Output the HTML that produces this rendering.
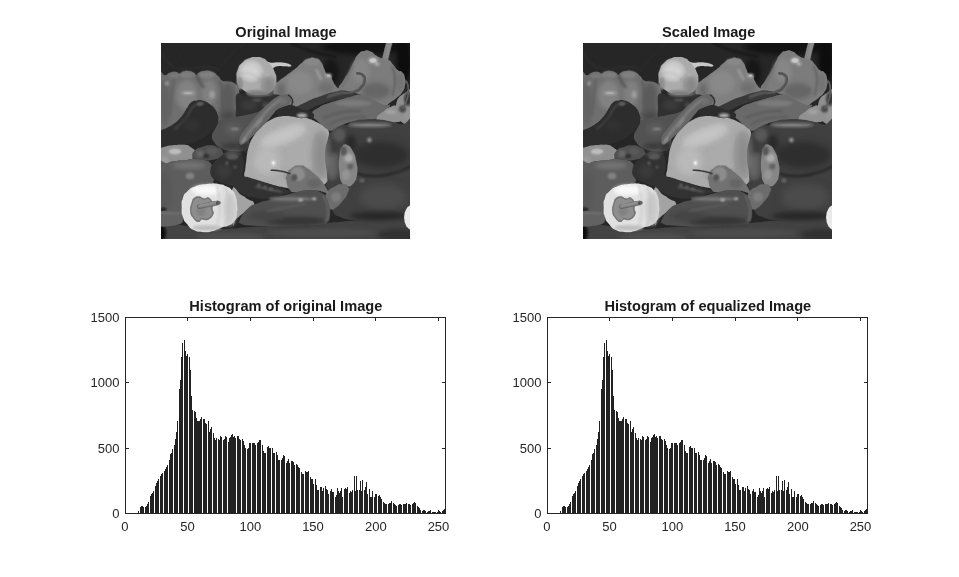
<!DOCTYPE html>
<html><head><meta charset="utf-8"><title>Figure</title>
<style>
html,body{margin:0;padding:0;background:#fff;}
body{width:959px;height:577px;overflow:hidden;}
svg{display:block;}
text{font-family:"Liberation Sans",Arial,Helvetica,sans-serif;fill:#262626;}
.tk{font-size:13px;}
.tt{font-size:14.6px;font-weight:bold;fill:#1a1a1a;}
</style></head><body>
<svg width="959" height="577" viewBox="0 0 959 577">
<defs>
<filter id="bl" x="-5%" y="-5%" width="110%" height="110%" color-interpolation-filters="sRGB"><feGaussianBlur stdDeviation="0.7"/><feComponentTransfer><feFuncR type="table" tableValues="0.000 0.000 0.000 0.038 0.097 0.131 0.173 0.207 0.244 0.296 0.331 0.345 0.359 0.379 0.407 0.440 0.470 0.503 0.531 0.550 0.567 0.584 0.601 0.666 0.741 0.771 0.795 0.823 0.877 0.946 0.990 1.000 1.000"/><feFuncG type="table" tableValues="0.000 0.000 0.000 0.038 0.097 0.131 0.173 0.207 0.244 0.296 0.331 0.345 0.359 0.379 0.407 0.440 0.470 0.503 0.531 0.550 0.567 0.584 0.601 0.666 0.741 0.771 0.795 0.823 0.877 0.946 0.990 1.000 1.000"/><feFuncB type="table" tableValues="0.000 0.000 0.000 0.038 0.097 0.131 0.173 0.207 0.244 0.296 0.331 0.345 0.359 0.379 0.407 0.440 0.470 0.503 0.531 0.550 0.567 0.584 0.601 0.666 0.741 0.771 0.795 0.823 0.877 0.946 0.990 1.000 1.000"/></feComponentTransfer></filter>
<filter id="b2" filterUnits="userSpaceOnUse" x="-30" y="-30" width="310" height="260"><feGaussianBlur color-interpolation-filters="sRGB" stdDeviation="2"/></filter>
<filter id="b3" filterUnits="userSpaceOnUse" x="-30" y="-30" width="310" height="260"><feGaussianBlur color-interpolation-filters="sRGB" stdDeviation="3.5"/></filter>
<filter id="b1" filterUnits="userSpaceOnUse" x="-30" y="-30" width="310" height="260"><feGaussianBlur color-interpolation-filters="sRGB" stdDeviation="1.1"/></filter>
<clipPath id="cp"><rect x="0" y="0" width="249" height="196"/></clipPath>
<symbol id="pep" viewBox="0 0 249 196" overflow="hidden">
<g clip-path="url(#cp)"><g filter="url(#bl)">
<rect x="-5" y="-5" width="259" height="206" fill="#2c2c2c"/>
<path d="M0.0,8.0C2.7,12.0 0.7,14.0 8.0,20.0C15.3,26.0 9.7,24.7 22.0,26.0C34.3,27.3 33.0,23.7 45.0,24.0C57.0,24.3 53.7,26.0 58.0,27.0" fill="none" stroke="#343434" stroke-width="1.3" stroke-linecap="round" filter="url(#b1)"/>
<path d="M58.0,27.0C62.0,22.0 61.3,21.0 70.0,12.0C78.7,3.0 79.3,4.0 84.0,0.0" fill="none" stroke="#303030" stroke-width="1.1" stroke-linecap="round" filter="url(#b1)"/>
<path d="M16.0,6.0 L22.0,20.0" fill="none" stroke="#303030" stroke-width="1.1" stroke-linecap="round" filter="url(#b1)"/>
<path d="M130.0,0.0C136.7,2.7 135.0,3.3 150.0,8.0C165.0,12.7 166.7,12.0 175.0,14.0" fill="none" stroke="#1e1e1e" stroke-width="2.0" stroke-linecap="round" filter="url(#b1)"/>
<ellipse cx="205.0" cy="4.0" rx="45.0" ry="8.0" fill="#1d1d1d" filter="url(#b2)"/>
<ellipse cx="243.0" cy="18.0" rx="8.0" ry="22.0" fill="#1a1a1a" filter="url(#b2)"/>
<ellipse cx="170.0" cy="30.0" rx="8.0" ry="14.0" fill="#1f1f1f" filter="url(#b2)"/>
<path d="M-5.0,181.0C6.0,177.2 29.0,185.5 50.0,186.0C71.0,186.5 77.0,184.6 100.0,183.4C123.0,182.2 146.0,181.2 165.0,180.0C184.0,178.8 176.8,178.8 195.0,177.6C213.2,176.4 243.8,168.5 256.0,174.0C268.2,179.5 308.2,198.8 256.0,205.0C203.8,211.2 47.2,209.8 -5.0,205.0C-57.2,200.2 -16.0,184.8 -5.0,181.0Z" fill="#434343" />
<ellipse cx="160.0" cy="190.0" rx="55.0" ry="4.0" fill="#4a4a4a" filter="url(#b2)"/>
<ellipse cx="70.0" cy="194.0" rx="35.0" ry="4.0" fill="#4b4b4b" filter="url(#b2)"/>
<ellipse cx="240.0" cy="192.0" rx="22.0" ry="6.0" fill="#353535" filter="url(#b2)"/>
<ellipse cx="0.0" cy="190.0" rx="5.0" ry="9.0" fill="#1a1a1a" filter="url(#b1)"/>
<path d="M236.0,58.0C237.6,53.6 240.0,52.4 244.0,50.0C248.0,47.6 253.6,39.2 256.0,46.0C258.4,52.8 258.6,77.1 256.0,84.0C253.4,90.9 247.0,82.9 243.0,80.5C239.0,78.1 237.4,76.5 236.0,72.0C234.6,67.5 234.4,62.4 236.0,58.0Z" fill="#9c9c9c" />
<ellipse cx="247.0" cy="56.0" rx="4.0" ry="7.0" fill="#3a3a3a" filter="url(#b1)"/>
<ellipse cx="246.0" cy="71.0" rx="5.0" ry="6.0" fill="#a8a8a8" filter="url(#b1)"/>
<path d="M224.0,17.0C224.8,13.7 224.7,13.3 226.3,7.0C227.9,0.7 228.0,1.0 228.8,-2.0" fill="none" stroke="#8a8a8a" stroke-width="6.0" stroke-linecap="round" />
<path d="M225.5,15.0C226.2,12.0 226.2,11.7 227.6,6.0C229.0,0.3 229.1,0.7 229.8,-2.0" fill="none" stroke="#9c9c9c" stroke-width="2.0" stroke-linecap="round" filter="url(#b1)"/>
<path d="M178.0,46.2C177.2,42.1 179.1,43.2 182.5,37.2C185.9,31.2 184.8,34.2 188.2,28.2C191.6,22.2 189.7,24.7 192.7,19.1C195.7,13.5 193.8,15.0 197.2,11.3C200.6,7.6 198.7,8.9 202.8,7.9C206.9,6.9 205.4,6.9 209.5,8.4C213.6,9.9 211.4,10.1 215.2,12.4C219.0,14.7 216.7,13.7 220.8,15.2C224.9,16.7 223.9,14.8 227.6,16.9C231.3,19.0 229.0,18.0 232.0,21.4C235.0,24.8 233.6,24.4 236.6,27.0C239.6,29.6 238.6,26.7 241.0,29.3C243.4,31.9 242.9,30.4 243.9,34.9C244.9,39.4 244.9,37.9 243.9,42.8C242.9,47.7 243.4,45.8 241.0,49.5C238.6,53.2 240.3,50.8 236.6,54.0C232.9,57.2 234.3,56.2 229.8,59.0C225.3,61.8 228.3,62.2 223.0,62.5C217.7,62.8 220.0,62.8 214.0,60.0C208.0,57.2 211.7,57.3 205.0,54.0C198.3,50.7 200.5,51.5 193.8,50.0C187.1,48.5 190.1,50.8 184.8,49.5C179.5,48.2 178.8,50.3 178.0,46.2Z" fill="#848484" />
<ellipse cx="200.0" cy="28.0" rx="9.0" ry="12.0" fill="#8e8e8e" filter="url(#b2)"/>
<ellipse cx="215.0" cy="48.0" rx="14.0" ry="8.0" fill="#6e6e6e" filter="url(#b2)"/>
<ellipse cx="239.0" cy="40.0" rx="3.5" ry="9.0" fill="#7c7c7c" filter="url(#b1)"/>
<path d="M231.0,24.0C232.0,28.0 233.7,26.7 234.0,36.0C234.3,45.3 232.7,46.7 232.0,52.0" fill="none" stroke="#5e5e5e" stroke-width="1.4" stroke-linecap="round" filter="url(#b1)"/>
<ellipse cx="212.0" cy="17.5" rx="4.5" ry="3.0" fill="#d0d0d0" filter="url(#b1)"/>
<ellipse cx="216.0" cy="21.0" rx="2.5" ry="2.0" fill="#c4c4c4" filter="url(#b1)"/>
<path d="M181.0,45.0C182.7,41.3 182.3,41.3 186.0,34.0C189.7,26.7 190.0,26.7 192.0,23.0" fill="none" stroke="#727272" stroke-width="1.5" stroke-linecap="round" filter="url(#b1)"/>
<path d="M113.0,44.0C113.7,37.3 114.0,41.8 118.0,38.0C122.0,34.2 119.7,36.7 125.0,32.7C130.3,28.7 128.7,30.3 134.0,26.0C139.3,21.7 136.5,23.1 141.0,19.7C145.5,16.3 143.2,17.3 147.6,15.8C152.0,14.3 150.2,14.1 154.3,15.2C158.4,16.3 157.0,15.4 160.0,19.0C163.0,22.6 161.4,22.2 163.3,26.0C165.2,29.8 163.4,28.2 165.6,30.4C167.8,32.6 168.0,30.4 170.0,32.7C172.0,35.0 170.0,33.8 171.5,37.2C173.0,40.6 172.4,39.2 174.6,42.8C176.8,46.4 180.9,44.9 178.0,48.0C175.1,51.1 175.0,49.0 166.0,52.0C157.0,55.0 161.0,53.1 151.0,57.0C141.0,60.9 144.0,59.9 136.0,63.6C128.0,67.3 133.7,69.9 127.0,68.0C120.3,66.1 120.7,66.0 116.0,58.0C111.3,50.0 112.3,50.7 113.0,44.0Z" fill="#888888" />
<ellipse cx="139.0" cy="40.0" rx="12.0" ry="11.0" fill="#939393" filter="url(#b2)"/>
<ellipse cx="120.0" cy="48.0" rx="4.0" ry="8.0" fill="#727272" filter="url(#b2)"/>
<ellipse cx="165.0" cy="45.0" rx="8.0" ry="6.0" fill="#787878" filter="url(#b2)"/>
<ellipse cx="151.0" cy="19.0" rx="8.0" ry="3.2" fill="#929292" filter="url(#b1)"/>
<path d="M155.5,27.0C156.5,29.0 157.0,30.0 158.5,33.0C160.0,36.0 159.5,35.0 160.0,36.0" fill="none" stroke="#c8c8c8" stroke-width="1.5" stroke-linecap="round" filter="url(#b1)"/>
<ellipse cx="167.5" cy="32.5" rx="3.0" ry="1.8" fill="#d0d0d0" filter="url(#b1)"/>
<path d="M-6.0,32.6C-3.9,14.8 0.3,33.0 4.0,32.3C7.7,31.6 5.3,30.9 8.0,30.0C10.7,29.1 11.1,28.7 14.0,28.8C16.9,28.9 16.9,30.6 19.0,30.5C21.1,30.4 19.6,29.2 22.0,28.5C24.4,27.8 25.1,27.6 28.0,28.0C30.9,28.4 31.0,28.9 33.0,30.0C35.0,31.1 34.2,32.1 35.5,32.0C36.8,31.9 35.7,30.6 38.0,29.5C40.3,28.4 40.5,28.2 44.0,28.0C47.5,27.8 47.5,27.5 51.0,28.8C54.5,30.1 54.3,30.7 57.0,33.0C59.7,35.3 58.3,36.0 61.0,37.5C63.7,39.0 63.8,37.8 67.0,38.5C70.2,39.2 70.3,38.3 73.0,40.0C75.7,41.7 75.5,41.5 77.0,45.0C78.5,48.5 78.2,48.5 78.5,53.0C78.8,57.5 78.9,56.9 78.0,62.0C77.1,67.1 76.7,67.9 75.0,72.0C73.3,76.1 76.0,75.4 71.5,77.5C67.0,79.6 68.0,77.2 58.0,80.0C48.0,82.8 50.5,82.9 34.0,88.0C17.5,93.1 6.7,113.8 -4.0,99.0C-14.7,84.2 -8.1,50.4 -6.0,32.6Z" fill="#777777" />
<ellipse cx="67.0" cy="58.0" rx="7.0" ry="18.0" fill="#606060" filter="url(#b2)"/>
<ellipse cx="4.0" cy="60.0" rx="5.0" ry="24.0" fill="#6a6a6a" filter="url(#b2)"/>
<ellipse cx="26.0" cy="52.0" rx="11.0" ry="15.0" fill="#8a8a8a" filter="url(#b2)"/>
<ellipse cx="48.0" cy="50.0" rx="8.0" ry="13.0" fill="#888888" filter="url(#b2)"/>
<ellipse cx="26.0" cy="32.0" rx="8.0" ry="3.0" fill="#868686" filter="url(#b1)"/>
<ellipse cx="46.0" cy="32.0" rx="8.0" ry="3.5" fill="#888888" filter="url(#b1)"/>
<ellipse cx="13.0" cy="33.0" rx="5.0" ry="2.5" fill="#828282" filter="url(#b1)"/>
<ellipse cx="27.0" cy="50.0" rx="6.5" ry="1.8" fill="#c4c4c4" filter="url(#b1)"/>
<ellipse cx="51.0" cy="51.5" rx="2.6" ry="3.8" fill="#b4b4b4" filter="url(#b1)"/>
<ellipse cx="6.0" cy="40.5" rx="1.8" ry="2.2" fill="#a4a4a4" filter="url(#b1)"/>
<path d="M36.0,33.0C37.3,35.7 37.7,37.2 40.0,41.0C42.3,44.8 42.0,43.3 43.0,44.5" fill="none" stroke="#4a4a4a" stroke-width="1.3" stroke-linecap="round" filter="url(#b1)"/>
<path d="M13.0,36.0C12.3,40.7 12.3,38.0 11.0,50.0C9.7,62.0 9.7,64.7 9.0,72.0" fill="none" stroke="#646464" stroke-width="1.4" stroke-linecap="round" filter="url(#b1)"/>
<path d="M59.0,38.0C60.0,43.7 61.7,42.3 62.0,55.0C62.3,67.7 60.7,69.0 60.0,76.0" fill="none" stroke="#5a5a5a" stroke-width="1.4" stroke-linecap="round" filter="url(#b1)"/>
<ellipse cx="67.0" cy="73.0" rx="9.0" ry="6.0" fill="#484848" filter="url(#b2)"/>
<path d="M76.0,51.0C78.2,48.8 82.0,52.8 86.0,53.0C90.0,53.2 91.2,52.4 96.0,52.0C100.8,51.6 105.2,50.6 110.0,51.0C114.8,51.4 119.6,51.0 120.0,54.0C120.4,57.0 116.8,62.6 112.0,66.0C107.2,69.4 103.0,69.2 96.0,71.0C89.0,72.8 81.2,76.4 77.0,75.0C72.8,73.6 75.2,68.8 75.0,64.0C74.8,59.2 73.8,53.2 76.0,51.0Z" fill="#343434" />
<ellipse cx="88.0" cy="62.0" rx="8.0" ry="5.0" fill="#3e3e3e" filter="url(#b2)"/>
<ellipse cx="96.0" cy="57.0" rx="5.0" ry="2.0" fill="#4a4a4a" filter="url(#b1)"/>
<ellipse cx="105.0" cy="62.0" rx="4.0" ry="3.0" fill="#454545" filter="url(#b1)"/>
<path d="M106.0,19.5C106.3,17.6 108.4,19.8 111.0,19.8C113.6,19.8 114.2,19.3 117.0,19.3C119.8,19.3 120.1,19.3 123.0,19.8C125.9,20.3 127.8,20.6 129.3,21.5C130.8,22.4 130.7,23.2 129.5,23.6C128.3,24.0 126.7,23.3 124.0,23.2C121.3,23.1 120.6,22.7 118.0,23.0C115.4,23.3 115.0,23.3 113.0,24.5C111.0,25.7 111.1,29.2 109.5,28.0C107.9,26.8 105.7,21.4 106.0,19.5Z" fill="#cccccc" />
<path d="M75.6,35.0C75.3,29.7 75.0,31.2 77.0,26.0C79.0,20.8 77.8,23.1 81.5,19.5C85.2,15.9 83.5,17.1 88.0,15.3C92.5,13.5 90.5,14.1 95.0,14.0C99.5,13.9 97.7,13.5 101.5,15.0C105.3,16.5 103.5,15.8 106.5,18.5C109.5,21.2 108.1,19.5 110.5,23.0C112.9,26.5 112.1,24.7 113.7,29.0C115.3,33.3 115.3,31.2 115.3,36.0C115.3,40.8 116.1,39.0 113.8,43.5C111.5,48.0 113.1,46.8 108.5,49.5C103.9,52.2 105.8,51.1 100.0,51.6C94.2,52.1 96.7,52.4 91.0,51.0C85.3,49.6 87.3,50.5 83.0,47.5C78.7,44.5 80.5,46.2 78.0,42.0C75.5,37.8 75.9,40.3 75.6,35.0Z" fill="#b8b8b8" />
<ellipse cx="90.0" cy="28.0" rx="10.0" ry="9.0" fill="#d8d8d8" filter="url(#b2)"/>
<ellipse cx="108.0" cy="43.0" rx="6.0" ry="8.0" fill="#909090" filter="url(#b2)"/>
<ellipse cx="97.0" cy="50.3" rx="12.0" ry="2.6" fill="#858585" filter="url(#b1)"/>
<ellipse cx="78.5" cy="41.0" rx="2.5" ry="6.0" fill="#9c9c9c" filter="url(#b1)"/>
<path d="M84.0,22.0C88.0,22.7 88.0,20.0 96.0,24.0C104.0,28.0 104.0,30.7 108.0,34.0" fill="none" stroke="#c8c8c8" stroke-width="0.7" stroke-linecap="round" filter="url(#b1)"/>
<path d="M80.0,30.0C84.7,31.0 85.3,28.3 94.0,33.0C102.7,37.7 102.0,40.3 106.0,44.0" fill="none" stroke="#aaaaaa" stroke-width="0.7" stroke-linecap="round" filter="url(#b1)"/>
<path d="M151.0,71.0C151.3,67.3 153.5,67.4 158.0,64.5C162.5,61.6 162.1,62.1 168.0,60.0C173.9,57.9 173.6,58.4 180.0,56.5C186.4,54.6 185.9,53.9 192.0,52.8C198.1,51.7 197.1,50.9 203.0,52.2C208.9,53.5 208.7,54.9 214.0,57.5C219.3,60.1 219.0,60.5 223.0,61.8C227.0,63.1 229.3,60.7 229.0,62.5C228.7,64.3 225.3,65.2 222.0,68.5C218.7,71.8 220.9,72.6 216.5,75.0C212.1,77.4 212.0,76.7 205.5,77.6C199.0,78.5 198.3,77.4 192.0,78.5C185.7,79.6 187.2,79.4 181.7,81.8C176.2,84.2 176.0,86.6 171.5,87.5C167.0,88.4 168.7,87.4 164.8,85.0C160.9,82.6 160.7,82.2 157.0,78.5C153.3,74.8 150.7,74.7 151.0,71.0Z" fill="#727272" />
<ellipse cx="192.0" cy="60.3" rx="18.0" ry="3.2" fill="#838383" filter="url(#b1)"/>
<path d="M163.0,74.7C168.7,73.0 168.1,71.8 180.0,69.6C191.9,67.4 192.5,68.5 198.7,68.0" fill="none" stroke="#606060" stroke-width="1.8" stroke-linecap="round" filter="url(#b1)"/>
<path d="M168.0,81.5C173.2,79.5 171.5,78.1 183.5,75.6C195.5,73.1 197.2,74.5 204.0,74.0" fill="none" stroke="#636363" stroke-width="1.8" stroke-linecap="round" filter="url(#b1)"/>
<path d="M128.0,69.0C132.3,65.3 135.5,63.8 144.4,59.4C153.3,55.0 153.2,55.5 161.4,52.6C169.6,49.7 169.1,50.0 175.0,48.6C180.9,47.2 178.7,47.0 183.4,47.5C188.1,48.0 190.5,48.8 192.8,50.3C195.1,51.8 195.0,51.6 192.0,53.0C189.0,54.4 188.5,53.9 181.7,55.5C174.9,57.1 175.1,56.3 166.5,59.0C157.9,61.7 157.2,62.3 149.5,65.7C141.8,69.1 143.3,69.6 137.6,71.7C131.9,73.8 130.8,74.1 128.2,73.4C125.6,72.7 123.7,72.7 128.0,69.0Z" fill="#3c3c3c" />
<path d="M166.5,54.0C169.9,52.9 171.0,52.1 176.6,50.6C182.2,49.1 181.1,49.9 183.4,49.6" fill="none" stroke="#8c8c8c" stroke-width="1.0" stroke-linecap="round" filter="url(#b1)"/>
<path d="M184.0,50.0C187.3,49.5 188.3,50.6 193.8,48.6C199.3,46.6 197.2,47.7 200.5,43.9C203.8,40.1 203.2,41.2 203.6,37.2C204.0,33.2 204.1,34.3 201.7,32.0C199.3,29.7 198.1,30.9 196.3,30.4" fill="none" stroke="#505050" stroke-width="2.5" stroke-linecap="round" />
<path d="M190.0,49.0C193.0,47.2 194.9,47.4 199.0,43.5C203.1,39.6 201.7,41.0 202.3,37.4C202.9,33.8 201.2,34.2 200.7,32.6" fill="none" stroke="#6e6e6e" stroke-width="0.8" stroke-linecap="round" />
<path d="M215.7,75.0C216.9,71.9 218.0,72.0 222.5,68.3C227.0,64.6 224.8,65.8 229.3,64.0C233.8,62.2 231.5,62.1 236.0,62.8C240.5,63.5 240.2,63.2 242.9,66.2C245.6,69.2 244.6,68.2 244.0,71.7C243.4,75.2 244.4,74.3 241.2,76.8C238.0,79.3 239.5,78.7 234.4,79.3C229.3,79.9 231.0,79.1 225.9,78.5C220.8,77.9 222.4,78.8 219.0,77.6C215.6,76.4 214.5,78.1 215.7,75.0Z" fill="#a0a0a0" />
<ellipse cx="230.0" cy="69.0" rx="6.0" ry="3.0" fill="#b4b4b4" filter="url(#b1)"/>
<ellipse cx="241.5" cy="66.0" rx="3.5" ry="3.5" fill="#444444" filter="url(#b1)"/>
<path d="M241.5,65.4C243.0,62.6 244.0,63.3 245.9,56.9C247.8,50.5 247.4,52.4 247.3,46.2C247.2,40.0 246.2,40.9 245.6,38.2" fill="none" stroke="#606060" stroke-width="1.5" stroke-linecap="round" />
<path d="M163.9,98.0C165.0,92.9 165.6,94.9 166.8,93.0C168.0,91.1 167.2,91.8 169.0,90.0C170.8,88.2 171.4,87.2 174.6,85.3C177.8,83.4 179.8,82.8 182.5,82.0C185.2,81.2 183.9,82.8 186.0,82.0C188.1,81.2 187.6,79.8 191.5,78.5C195.4,77.2 197.0,76.8 202.8,76.3C208.6,75.8 210.0,75.8 216.3,76.3C222.6,76.8 224.0,77.3 229.8,78.5C235.6,79.7 234.9,80.2 241.0,81.5C247.1,82.8 252.5,62.5 256.0,84.0C259.5,105.5 258.9,152.5 256.0,173.5C253.1,194.5 249.9,173.6 243.5,174.0C237.1,174.4 236.1,174.5 228.6,175.2C221.1,175.9 219.5,176.4 211.5,176.9C203.5,177.4 201.5,178.0 194.3,177.5C187.1,177.0 185.9,176.9 180.6,174.6C175.3,172.3 174.3,173.5 171.4,167.8C168.5,162.1 169.5,156.0 168.0,150.0C166.5,144.0 166.3,146.4 164.8,142.2C163.3,138.0 162.0,138.3 161.4,132.0C160.8,125.7 161.6,122.9 162.2,115.0C162.8,107.1 162.8,103.1 163.9,98.0Z" fill="#414141" />
<ellipse cx="220.0" cy="112.0" rx="28.0" ry="13.0" fill="#323232" filter="url(#b3)"/>
<ellipse cx="222.0" cy="154.0" rx="24.0" ry="13.0" fill="#484848" filter="url(#b3)"/>
<ellipse cx="219.0" cy="173.0" rx="30.0" ry="4.0" fill="#2c2c2c" filter="url(#b2)"/>
<ellipse cx="209.0" cy="82.0" rx="21.0" ry="2.0" fill="#8a8a8a" filter="url(#b1)"/>
<ellipse cx="178.0" cy="92.0" rx="6.0" ry="6.0" fill="#5a5a5a" filter="url(#b2)"/>
<ellipse cx="171.0" cy="122.0" rx="6.0" ry="14.0" fill="#6c6c6c" filter="url(#b2)"/>
<ellipse cx="171.0" cy="105.0" rx="5.0" ry="7.0" fill="#3e3e3e" filter="url(#b2)"/>
<ellipse cx="190.0" cy="100.0" rx="5.0" ry="8.0" fill="#2e2e2e" filter="url(#b2)"/>
<path d="M195.0,130.0C200.7,131.0 199.3,133.0 212.0,133.0C224.7,133.0 220.3,133.3 233.0,130.0C245.7,126.7 244.3,125.3 250.0,123.0" fill="none" stroke="#2a2a2a" stroke-width="2.2" stroke-linecap="round" filter="url(#b1)"/>
<ellipse cx="208.4" cy="97.0" rx="2.0" ry="2.0" fill="#b4b4b4" filter="url(#b1)"/>
<ellipse cx="201.0" cy="137.5" rx="1.6" ry="1.3" fill="#909090" filter="url(#b1)"/>
<path d="M181.0,104.0C183.2,100.6 183.6,101.0 186.5,102.2C189.4,103.4 189.7,104.1 192.0,108.5C194.3,112.9 194.2,112.8 195.3,118.7C196.4,124.6 197.0,124.8 196.2,130.6C195.4,136.4 195.2,137.2 192.3,140.5C189.4,143.8 188.7,143.5 185.5,143.0C182.3,142.5 182.3,142.6 180.4,138.8C178.5,135.0 178.9,134.9 178.3,128.6C177.7,122.3 177.6,121.6 178.3,115.0C179.0,108.4 178.8,107.4 181.0,104.0Z" fill="#8e8e8e" />
<ellipse cx="187.7" cy="115.0" rx="5.0" ry="5.0" fill="#b8b8b8" filter="url(#b1)"/>
<ellipse cx="185.0" cy="132.0" rx="4.0" ry="5.0" fill="#a8a8a8" filter="url(#b1)"/>
<ellipse cx="189.4" cy="123.5" rx="3.0" ry="3.0" fill="#686868" filter="url(#b1)"/>
<ellipse cx="182.6" cy="108.0" rx="3.0" ry="4.5" fill="#5a5a5a" filter="url(#b1)"/>
<path d="M166.5,149.0C169.3,145.1 168.2,146.5 173.3,143.9C178.4,141.3 177.1,141.2 181.7,141.3C186.3,141.4 185.7,141.0 187.2,144.2C188.7,147.4 188.0,146.5 186.2,151.0C184.4,155.5 185.4,153.3 181.7,157.8C178.0,162.3 178.9,161.8 175.0,164.6C171.1,167.4 172.7,166.9 169.9,166.3C167.1,165.7 168.2,166.4 166.5,162.9C164.8,159.4 164.8,160.3 164.8,155.7C164.8,151.1 163.7,152.9 166.5,149.0Z" fill="#747474" />
<ellipse cx="175.0" cy="154.0" rx="5.0" ry="5.0" fill="#858585" filter="url(#b1)"/>
<path d="M57.0,78.0C60.1,75.7 62.6,76.2 68.0,75.0C73.4,73.8 74.4,74.0 80.0,73.0C85.6,72.0 86.4,71.8 92.0,70.5C97.6,69.2 102.8,65.8 104.0,67.5C105.2,69.2 100.7,72.4 97.0,78.0C93.3,83.6 90.3,87.0 88.3,91.7C86.3,96.4 89.1,94.5 88.3,98.0C87.5,101.5 89.0,104.1 85.0,106.5C81.0,108.9 77.3,108.6 71.3,108.2C65.3,107.8 63.7,106.9 59.4,104.8C55.1,102.7 55.0,102.0 53.0,99.0C51.0,96.0 50.6,95.3 51.0,92.0C51.4,88.7 53.1,88.3 54.5,85.0C55.9,81.7 53.9,80.3 57.0,78.0Z" fill="#4e4e4e" />
<ellipse cx="72.0" cy="86.0" rx="8.0" ry="6.0" fill="#626262" filter="url(#b2)"/>
<ellipse cx="74.0" cy="86.0" rx="4.5" ry="1.2" fill="#909090" filter="url(#b1)"/>
<ellipse cx="83.0" cy="103.0" rx="6.0" ry="5.0" fill="#383838" filter="url(#b2)"/>
<ellipse cx="70.0" cy="103.0" rx="10.0" ry="3.5" fill="#3e3e3e" filter="url(#b2)"/>
<path d="M116.0,66.0C116.8,63.6 121.0,63.8 124.0,63.0C127.0,62.2 127.8,61.4 131.0,62.0C134.2,62.6 135.8,64.4 140.0,66.0C144.2,67.6 150.0,68.0 152.0,70.0C154.0,72.0 153.4,75.0 150.0,76.0C146.6,77.0 141.0,75.2 135.0,75.0C129.0,74.8 123.8,76.8 120.0,75.0C116.2,73.2 115.2,68.4 116.0,66.0Z" fill="#303030" />
<path d="M83.5,133.0C82.6,130.8 83.8,130.0 84.3,126.0C84.8,122.0 84.8,120.7 85.5,115.7C86.2,110.7 85.9,109.7 87.5,104.4C89.1,99.2 89.5,98.1 92.5,93.2C95.5,88.3 96.4,87.3 100.5,83.5C104.6,79.7 105.6,79.1 110.0,76.8C114.4,74.5 114.6,74.4 119.4,73.6C124.2,72.8 126.2,73.1 130.7,73.4C135.2,73.7 134.7,74.5 138.6,75.0C142.5,75.5 143.4,74.6 147.6,75.7C151.8,76.8 152.9,77.7 156.6,79.6C160.3,81.5 160.7,81.9 163.3,84.0C165.9,86.1 167.0,85.7 167.8,88.6C168.6,91.5 167.5,92.8 166.7,96.5C165.9,100.2 165.2,100.5 164.5,104.4C163.8,108.3 163.9,109.5 163.9,113.4C163.9,117.3 164.0,117.0 164.5,121.3C165.0,125.6 166.1,127.4 166.0,132.0C165.9,136.6 168.0,137.6 164.0,141.0C160.0,144.4 158.1,145.6 149.0,146.5C139.9,147.4 136.0,146.3 125.0,144.7C114.0,143.1 110.5,141.7 101.9,139.6C93.3,137.5 92.3,137.0 88.0,135.5C83.7,134.0 84.4,135.2 83.5,133.0Z" fill="#b8b8b8" />
<ellipse cx="122.0" cy="93.0" rx="24.0" ry="6.0" fill="#cacaca" filter="url(#b3)" transform="rotate(-22 122 93)"/>
<ellipse cx="106.0" cy="118.0" rx="13.0" ry="14.0" fill="#bebebe" filter="url(#b3)"/>
<ellipse cx="160.0" cy="112.0" rx="6.0" ry="22.0" fill="#969696" filter="url(#b3)"/>
<ellipse cx="140.0" cy="133.0" rx="16.0" ry="6.0" fill="#a8a8a8" filter="url(#b2)"/>
<ellipse cx="112.4" cy="120.0" rx="1.8" ry="2.2" fill="#f6f6f6" filter="url(#b1)"/>
<ellipse cx="141.0" cy="72.5" rx="5.0" ry="2.0" fill="#c8c8c8" filter="url(#b1)"/>
<path d="M71.0,147.5C73.7,138.4 74.7,148.8 80.0,151.7C85.3,154.6 82.8,153.6 87.0,156.3C91.2,159.0 91.6,157.0 92.7,159.7C93.8,162.4 93.8,160.9 90.4,164.3C87.0,167.7 87.4,166.2 82.4,170.0C77.4,173.8 79.0,172.8 75.5,175.8C72.0,178.8 73.5,188.4 72.0,179.0C70.5,169.6 68.3,156.6 71.0,147.5Z" fill="#b4b4b4" />
<path d="M-4.0,105.0C0.7,97.4 1.3,103.4 10.0,102.2C18.7,101.0 15.1,100.5 22.0,101.4C28.9,102.3 26.5,101.9 30.6,104.8C34.7,107.7 33.6,106.6 34.3,110.0C35.0,113.4 35.5,112.7 32.6,115.0C29.7,117.3 31.3,116.0 25.5,117.0C19.7,118.0 21.5,117.0 15.3,118.0C9.1,119.0 13.2,117.7 6.8,120.0C0.4,122.3 -0.4,130.0 -4.0,125.0C-7.6,120.0 -8.7,112.6 -4.0,105.0Z" fill="#a0a0a0" />
<ellipse cx="14.0" cy="108.5" rx="7.0" ry="3.5" fill="#c0c0c0" filter="url(#b1)"/>
<ellipse cx="3.0" cy="117.5" rx="5.0" ry="4.0" fill="#b0b0b0" filter="url(#b1)"/>
<path d="M-4.0,91.0C0.0,85.3 4.6,86.5 11.0,82.0C17.4,77.5 16.0,78.5 20.0,74.0C24.0,69.5 23.3,68.9 26.0,65.0C28.7,61.1 27.4,61.4 30.0,59.4C32.6,57.4 32.4,57.9 35.7,57.4C39.0,56.9 39.1,56.7 42.5,57.7C45.9,58.7 45.6,58.9 48.6,61.0C51.6,63.1 51.6,62.7 53.7,65.5C55.8,68.3 55.6,68.3 56.6,71.5C57.6,74.7 58.0,73.9 57.4,77.4C56.8,80.9 57.2,80.7 54.5,84.5C51.8,88.3 52.0,88.0 47.3,91.5C42.6,95.0 42.7,95.2 37.0,97.7C31.3,100.2 32.9,99.8 26.0,101.0C19.1,102.2 19.0,101.5 11.0,102.2C3.0,102.9 0.0,106.5 -4.0,103.5C-8.0,100.5 -8.0,96.7 -4.0,91.0Z" fill="#313131" />
<path d="M14.0,86.0C17.7,82.3 18.7,82.7 25.0,75.0C31.3,67.3 27.0,68.0 33.0,63.0C39.0,58.0 39.7,61.0 43.0,60.0" fill="none" stroke="#484848" stroke-width="1.8" stroke-linecap="round" filter="url(#b1)"/>
<ellipse cx="39.0" cy="61.0" rx="3.0" ry="1.4" fill="#6c6c6c" filter="url(#b1)"/>
<ellipse cx="30.0" cy="82.0" rx="8.0" ry="6.0" fill="#363636" filter="url(#b2)"/>
<path d="M-4.0,124.5C-1.1,110.9 1.7,121.7 6.8,120.0C11.9,118.3 10.3,118.8 15.3,118.0C20.3,117.2 20.5,117.5 25.5,117.0C30.5,116.5 29.5,116.0 34.0,116.0C38.5,116.0 38.4,115.9 42.5,117.0C46.6,118.1 46.9,117.3 49.3,120.0C51.7,122.7 50.5,122.7 51.5,127.0C52.5,131.3 53.9,132.1 53.0,136.0C52.1,139.9 52.8,139.6 48.0,141.5C43.2,143.4 40.8,141.2 35.0,143.0C29.2,144.8 29.8,145.0 26.3,148.3C22.8,151.6 23.2,150.9 21.7,155.2C20.2,159.5 20.9,160.6 20.6,164.3C20.3,168.0 27.0,167.2 20.4,169.0C13.8,170.8 2.5,182.9 -4.0,171.0C-10.5,159.1 -6.9,138.1 -4.0,124.5Z" fill="#626262" />
<ellipse cx="28.0" cy="122.5" rx="17.0" ry="4.0" fill="#7c7c7c" filter="url(#b2)"/>
<ellipse cx="29.0" cy="133.0" rx="4.5" ry="3.5" fill="#8a8a8a" filter="url(#b1)"/>
<ellipse cx="4.0" cy="148.0" rx="6.0" ry="18.0" fill="#585858" filter="url(#b2)"/>
<ellipse cx="2.0" cy="167.0" rx="4.0" ry="3.0" fill="#2e2e2e" filter="url(#b1)"/>
<path d="M-4.0,169.3C0.9,166.7 15.1,168.0 20.4,169.3C25.7,170.6 23.1,173.6 22.4,176.0C21.7,178.4 22.3,180.2 17.0,181.5C11.7,182.8 0.2,184.7 -4.0,182.3C-8.2,179.9 -8.9,171.9 -4.0,169.3Z" fill="#6a6a6a" />
<path d="M-2.0,170.3 L19.0,170.3" fill="none" stroke="#888888" stroke-width="1.0" stroke-linecap="round" filter="url(#b1)"/>
<path d="M31.4,113.6C31.4,110.7 30.9,110.5 34.0,107.3C37.1,104.1 35.7,105.7 40.8,104.0C45.9,102.3 44.1,102.2 49.3,102.2C54.5,102.2 52.3,102.0 56.4,104.0C60.5,106.0 60.4,105.0 61.5,108.2C62.6,111.4 63.3,110.7 59.8,113.6C56.3,116.5 57.3,115.9 51.0,117.0C44.7,118.1 46.5,117.3 40.8,117.0C35.1,116.7 37.1,117.1 34.0,116.0C30.9,114.9 31.4,116.5 31.4,113.6Z" fill="#4c4c4c" />
<ellipse cx="39.0" cy="110.7" rx="4.0" ry="3.5" fill="#707070" filter="url(#b1)"/>
<ellipse cx="51.0" cy="108.2" rx="5.0" ry="3.0" fill="#5e5e5e" filter="url(#b1)"/>
<ellipse cx="45.0" cy="113.0" rx="3.0" ry="2.0" fill="#333333" filter="url(#b1)"/>
<path d="M129.5,60.0C131.2,58.0 131.1,57.0 130.5,55.0C129.9,53.0 129.2,52.0 127.0,51.3C124.8,50.6 124.0,50.9 121.0,51.8C118.0,52.7 117.0,53.1 114.0,55.0C111.0,56.9 110.7,57.7 108.0,60.0C105.3,62.3 105.3,62.2 102.5,65.0C99.7,67.8 98.9,68.7 96.0,72.0C93.1,75.3 92.8,75.6 90.0,79.0C87.2,82.4 86.3,83.6 84.0,86.5C81.7,89.4 81.3,89.0 80.0,91.5C78.7,94.0 78.3,94.7 78.3,97.0C78.3,99.3 78.2,101.3 80.0,101.5C81.8,101.7 82.8,100.5 86.0,98.0C89.2,95.5 90.0,94.4 93.5,91.0C97.0,87.6 97.6,87.0 101.0,83.5C104.4,80.0 105.2,79.2 108.0,76.0C110.8,72.8 110.9,72.3 113.0,70.0C115.1,67.7 114.7,67.5 117.0,66.0C119.3,64.5 120.1,64.9 123.0,63.5C125.9,62.1 127.8,62.0 129.5,60.0Z" fill="#6e6e6e" />
<path d="M120.0,56.0C116.7,58.7 116.7,57.7 110.0,64.0C103.3,70.3 106.7,67.3 100.0,75.0C93.3,82.7 95.7,80.0 90.0,87.0C84.3,94.0 85.3,93.0 83.0,96.0" fill="none" stroke="#8e8e8e" stroke-width="2.0" stroke-linecap="round" filter="url(#b1)"/>
<path d="M101.0,76.0 L95.0,84.0" fill="none" stroke="#c8c8c8" stroke-width="0.9" stroke-linecap="round" filter="url(#b1)"/>
<path d="M84.5,95.5 L81.0,99.5" fill="none" stroke="#b8b8b8" stroke-width="1.3" stroke-linecap="round" filter="url(#b1)"/>
<path d="M127.5,52.0C128.8,53.5 130.3,53.2 131.3,56.5C132.3,59.8 131.7,59.2 130.6,62.0C129.5,64.8 128.9,64.0 128.0,65.0" fill="none" stroke="#333333" stroke-width="1.5" stroke-linecap="round" />
<ellipse cx="122.0" cy="58.0" rx="4.0" ry="3.0" fill="#7a7a7a" filter="url(#b1)"/>
<path d="M49.3,127.2C49.7,123.4 49.9,123.5 52.6,120.0C55.3,116.5 56.2,116.7 59.4,114.0C62.6,111.3 61.3,111.5 64.5,110.0C67.7,108.5 67.7,108.2 71.3,108.2C74.9,108.2 75.2,108.2 78.0,110.0C80.8,111.8 80.6,111.4 81.9,115.0C83.2,118.6 82.7,119.0 82.7,123.5C82.7,128.0 80.5,129.1 82.0,132.0C83.5,134.9 83.0,132.7 88.3,134.5C93.6,136.3 94.6,136.5 101.9,138.8C109.2,141.1 109.1,140.8 115.5,143.0C121.9,145.2 121.9,145.4 125.8,147.0C129.7,148.6 130.3,148.0 130.3,149.0C130.3,150.0 130.0,149.3 125.8,150.6C121.6,151.9 120.8,152.7 114.4,154.0C108.0,155.3 108.0,155.5 101.9,155.5C95.8,155.5 97.1,155.2 91.7,154.0C86.3,152.8 86.5,153.5 81.5,151.0C76.5,148.5 77.5,147.2 73.0,144.5C68.5,141.8 69.0,142.8 64.5,141.0C60.0,139.2 59.6,139.5 56.0,137.7C52.4,135.9 52.8,137.1 51.0,134.3C49.2,131.5 48.9,131.0 49.3,127.2Z" fill="#363636" />
<ellipse cx="71.3" cy="113.3" rx="6.0" ry="3.0" fill="#585858" filter="url(#b1)"/>
<path d="M62.8,111.6C65.6,110.6 65.6,108.9 71.3,108.6C77.0,108.3 77.0,110.0 79.8,110.7" fill="none" stroke="#6e6e6e" stroke-width="1.0" stroke-linecap="round" filter="url(#b1)"/>
<path d="M95.0,143.9C99.6,144.7 100.4,144.7 108.7,146.4C117.0,148.1 116.2,148.1 120.0,149.0" fill="none" stroke="#5c5c5c" stroke-width="1.5" stroke-linecap="round" filter="url(#b1)"/>
<ellipse cx="63.0" cy="128.0" rx="7.0" ry="7.0" fill="#3e3e3e" filter="url(#b2)"/>
<ellipse cx="98.0" cy="142.0" rx="1.5" ry="1.0" fill="#7a7a7a" filter="url(#b1)"/>
<ellipse cx="104.0" cy="144.0" rx="1.5" ry="1.0" fill="#727272" filter="url(#b1)"/>
<ellipse cx="110.0" cy="146.0" rx="1.5" ry="1.0" fill="#7a7a7a" filter="url(#b1)"/>
<ellipse cx="66.0" cy="120.0" rx="1.2" ry="1.6" fill="#6a6a6a" filter="url(#b1)"/>
<ellipse cx="74.0" cy="124.0" rx="1.2" ry="1.6" fill="#5e5e5e" filter="url(#b1)"/>
<path d="M125.7,132.0C127.4,127.5 126.3,128.3 130.8,125.2C135.3,122.1 134.2,122.6 139.3,122.6C144.4,122.6 141.5,122.6 146.0,125.2C150.5,127.8 148.3,126.4 152.9,130.3C157.5,134.2 155.5,131.9 159.7,137.0C163.9,142.1 163.0,140.9 165.6,145.6C168.2,150.3 168.4,149.8 167.5,151.0C166.6,152.2 167.3,150.4 163.0,149.3C158.7,148.2 160.8,148.2 154.6,147.6C148.4,147.0 151.2,147.0 144.4,147.5C137.6,148.0 139.6,149.5 134.2,149.0C128.8,148.5 131.0,149.3 128.2,145.9C125.4,142.5 126.5,143.4 125.7,138.8C124.9,134.2 124.0,136.5 125.7,132.0Z" fill="#7a7a7a" />
<ellipse cx="136.7" cy="131.0" rx="7.0" ry="7.0" fill="#9a9a9a" filter="url(#b1)"/>
<ellipse cx="133.3" cy="134.5" rx="2.8" ry="3.2" fill="#4e4e4e" filter="url(#b1)"/>
<ellipse cx="153.0" cy="140.5" rx="7.0" ry="4.5" fill="#6e6e6e" filter="url(#b1)"/>
<path d="M110.4,127.2C113.3,127.4 112.8,126.8 119.0,127.9C125.2,129.0 125.7,129.7 129.0,130.6" fill="none" stroke="#3c3c3c" stroke-width="1.5" stroke-linecap="round" />
<path d="M79.0,176.5C80.8,172.4 81.8,170.0 86.9,165.5C92.0,161.0 91.6,162.2 98.3,159.7C105.0,157.2 104.7,158.4 112.0,156.3C119.3,154.2 118.5,153.8 125.8,151.7C133.1,149.6 132.8,149.5 139.5,148.3C146.2,147.1 145.8,147.0 151.0,147.2C156.2,147.4 155.3,147.1 159.0,148.9C162.7,150.7 162.3,150.5 164.7,154.0C167.1,157.5 167.0,157.4 168.1,162.0C169.2,166.6 169.0,166.9 168.7,171.2C168.4,175.5 169.3,175.3 167.0,178.0C164.7,180.7 167.9,180.2 160.0,181.5C152.1,182.8 149.4,182.3 137.2,182.8C125.0,183.3 126.5,183.4 114.3,183.4C102.1,183.4 100.5,183.5 91.4,182.8C82.3,182.1 83.3,182.5 80.0,180.8C76.7,179.1 77.2,180.6 79.0,176.5Z" fill="#4b4b4b" />
<ellipse cx="130.0" cy="156.0" rx="22.0" ry="2.6" fill="#7c7c7c" filter="url(#b1)"/>
<ellipse cx="139.6" cy="156.9" rx="2.0" ry="1.5" fill="#d8d8d8" filter="url(#b1)"/>
<ellipse cx="153.2" cy="155.7" rx="2.3" ry="1.5" fill="#cccccc" filter="url(#b1)"/>
<path d="M106.0,168.5C112.3,167.2 112.3,167.0 125.0,164.5C137.7,162.0 137.7,162.2 144.0,161.0" fill="none" stroke="#6c6c6c" stroke-width="1.2" stroke-linecap="round" filter="url(#b1)"/>
<ellipse cx="135.0" cy="178.0" rx="30.0" ry="4.0" fill="#383838" filter="url(#b2)"/>
<ellipse cx="105.0" cy="173.0" rx="18.0" ry="5.0" fill="#444444" filter="url(#b2)"/>
<path d="M162.5,152.5C164.0,156.7 165.8,156.5 167.0,165.0C168.2,173.5 166.3,173.7 166.0,178.0" fill="none" stroke="#8c8c8c" stroke-width="1.2" stroke-linecap="round" filter="url(#b1)"/>
<path d="M20.6,164.3C20.6,158.2 19.8,160.5 21.7,155.2C23.6,149.9 22.1,152.3 26.3,148.3C30.5,144.3 27.8,145.7 34.3,143.2C40.8,140.7 38.2,141.7 45.8,140.9C53.4,140.1 50.7,140.1 57.2,140.9C63.7,141.7 60.6,141.1 65.2,143.2C69.8,145.3 67.9,144.0 71.0,147.2C74.1,150.4 72.7,148.0 74.4,152.9C76.1,157.8 75.6,155.9 76.0,162.0C76.4,168.1 76.4,165.9 75.5,171.2C74.6,176.5 75.9,174.2 73.2,178.0C70.5,181.8 72.1,180.3 67.5,182.6C62.9,184.9 65.2,183.0 59.5,184.9C53.8,186.8 56.4,187.1 50.3,188.4C44.2,189.7 46.9,189.3 41.2,188.9C35.5,188.5 38.2,189.7 33.2,187.2C28.2,184.7 30.1,186.1 26.3,181.5C22.5,176.9 23.6,179.2 21.7,173.5C19.8,167.8 20.6,170.4 20.6,164.3Z" fill="#e0e0e0" />
<ellipse cx="69.0" cy="166.0" rx="5.5" ry="16.0" fill="#cccccc" filter="url(#b2)"/>
<ellipse cx="46.0" cy="184.8" rx="14.0" ry="2.4" fill="#c0c0c0" filter="url(#b1)"/>
<ellipse cx="45.0" cy="147.0" rx="14.0" ry="4.5" fill="#eeeeee" filter="url(#b2)"/>
<path d="M29.2,168.5C28.7,164.4 29.5,163.6 30.5,160.0C31.5,156.4 31.0,156.7 33.0,155.0C35.0,153.3 35.3,153.4 38.0,153.5C40.7,153.6 40.5,155.2 43.0,155.5C45.5,155.8 45.2,153.3 47.5,154.5C49.8,155.7 50.7,156.9 51.8,160.0C52.9,163.1 51.3,163.1 51.5,166.0C51.7,168.9 53.7,168.1 52.5,171.0C51.3,173.9 50.1,175.3 47.0,176.8C43.9,178.3 43.5,175.9 41.0,176.5C38.5,177.1 39.8,179.3 37.5,179.0C35.2,178.7 34.7,178.3 32.5,175.5C30.3,172.7 29.7,172.6 29.2,168.5Z" fill="#7c7c7c" />
<path d="M30.6,168.3C30.1,164.6 30.9,163.7 31.8,160.5C32.7,157.3 32.3,157.8 34.0,156.3C35.7,154.8 35.6,154.8 38.0,155.0C40.4,155.2 40.6,156.7 43.0,157.0C45.4,157.3 45.1,155.1 47.0,156.0C48.9,156.9 49.5,157.8 50.3,160.5C51.1,163.2 49.8,163.3 50.0,166.0C50.2,168.7 51.9,168.0 51.0,170.5C50.1,173.0 49.2,174.1 46.5,175.3C43.8,176.5 43.3,174.5 41.0,175.0C38.7,175.5 39.7,177.4 37.7,177.3C35.7,177.2 35.4,176.9 33.5,174.5C31.6,172.1 31.1,172.0 30.6,168.3Z" fill="#9c9c9c" />
<ellipse cx="40.0" cy="168.0" rx="5.0" ry="5.5" fill="#8a8a8a" filter="url(#b1)"/>
<path d="M38.5,163.6C41.7,163.0 42.0,162.9 48.0,161.7C54.0,160.5 53.7,160.6 56.5,160.0" fill="none" stroke="#6e6e6e" stroke-width="4.8" stroke-linecap="round" />
<path d="M38.5,163.2C41.7,162.6 42.2,162.5 48.0,161.3C53.8,160.1 53.3,160.2 56.0,159.7" fill="none" stroke="#909090" stroke-width="3.3" stroke-linecap="round" />
<path d="M56.3,160.0 L58.0,159.7" fill="none" stroke="#484848" stroke-width="3.2" stroke-linecap="round" />
<path d="M39.0,162.4 L55.0,159.2" fill="none" stroke="#ababab" stroke-width="0.9" stroke-linecap="round" />
<path d="M56.0,142.5C56.8,150.0 58.8,150.5 58.5,165.0C58.2,179.5 56.2,179.0 55.0,186.0" fill="none" stroke="#cdcdcd" stroke-width="1.0" stroke-linecap="round" filter="url(#b1)"/>
<path d="M65.0,144.5C65.8,151.3 67.8,152.2 67.5,165.0C67.2,177.8 65.2,177.0 64.0,183.0" fill="none" stroke="#c4c4c4" stroke-width="1.0" stroke-linecap="round" filter="url(#b1)"/>
<ellipse cx="251.0" cy="174.5" rx="8.0" ry="12.5" fill="#e4e4e4" />
</g></g>
</symbol>
</defs>
<rect width="959" height="577" fill="#fff"/>
<use href="#pep" x="161" y="43" width="249" height="196"/>
<use href="#pep" x="583" y="43" width="249" height="196"/>
<text x="286" y="36.6" text-anchor="middle" class="tt">Original Image</text>
<text x="708.7" y="36.6" text-anchor="middle" class="tt">Scaled Image</text>
<text x="285.8" y="310.6" text-anchor="middle" class="tt">Histogram of original Image</text>
<text x="707.8" y="310.6" text-anchor="middle" class="tt">Histogram of equalized Image</text>
<path d="M137.5,513.5V512.9M138.5,513.5V511.4M140.5,513.5V506.6M141.5,513.5V505.5M142.5,513.5V506.2M143.5,513.5V507.4M145.5,513.5V507.0M146.5,513.5V505.7M147.5,513.5V504.1M148.5,513.5V502.1M150.5,513.5V496.2M151.5,513.5V494.3M152.5,513.5V492.8M153.5,513.5V490.8M155.5,513.5V486.1M156.5,513.5V483.0M157.5,513.5V480.6M158.5,513.5V479.0M160.5,513.5V475.7M161.5,513.5V473.7M162.5,513.5V473.0M164.5,513.5V471.1M165.5,513.5V468.8M166.5,513.5V466.6M167.5,513.5V464.7M169.5,513.5V459.9M170.5,513.5V454.0M171.5,513.5V452.5M172.5,513.5V449.1M174.5,513.5V444.6M175.5,513.5V439.4M176.5,513.5V431.8M177.5,513.5V421.1M179.5,513.5V389.4M180.5,513.5V379.7M181.5,513.5V356.7M182.5,513.5V342.6M184.5,513.5V339.5M185.5,513.5V351.2M186.5,513.5V355.8M187.5,513.5V353.6M189.5,513.5V357.4M190.5,513.5V369.9M191.5,513.5V395.6M192.5,513.5V409.6M194.5,513.5V410.6M195.5,513.5V412.3M196.5,513.5V417.9M197.5,513.5V421.3M198.5,513.5V420.9M199.5,513.5V420.8M200.5,513.5V418.9M201.5,513.5V416.8M203.5,513.5V418.7M204.5,513.5V419.4M205.5,513.5V422.5M206.5,513.5V423.8M208.5,513.5V420.9M209.5,513.5V432.2M210.5,513.5V428.9M211.5,513.5V426.9M213.5,513.5V433.3M214.5,513.5V438.3M215.5,513.5V439.9M216.5,513.5V438.3M218.5,513.5V439.4M219.5,513.5V439.5M220.5,513.5V435.8M221.5,513.5V436.7M223.5,513.5V440.3M224.5,513.5V438.9M225.5,513.5V436.2M226.5,513.5V437.4M228.5,513.5V442.0M229.5,513.5V438.4M230.5,513.5V436.9M231.5,513.5V434.8M232.5,513.5V434.1M233.5,513.5V437.3M234.5,513.5V436.2M235.5,513.5V438.3M237.5,513.5V436.0M238.5,513.5V435.8M239.5,513.5V438.9M240.5,513.5V439.7M242.5,513.5V438.6M243.5,513.5V441.1M244.5,513.5V444.7M245.5,513.5V447.6M247.5,513.5V449.2M248.5,513.5V447.8M249.5,513.5V443.0M250.5,513.5V443.0M252.5,513.5V442.7M253.5,513.5V442.5M254.5,513.5V442.7M255.5,513.5V444.9M257.5,513.5V443.4M258.5,513.5V442.1M259.5,513.5V439.7M260.5,513.5V439.8M262.5,513.5V445.2M263.5,513.5V450.7M264.5,513.5V452.9M265.5,513.5V452.5M267.5,513.5V447.1M268.5,513.5V445.9M269.5,513.5V447.8M270.5,513.5V447.9M272.5,513.5V447.8M273.5,513.5V452.8M274.5,513.5V453.4M276.5,513.5V452.3M277.5,513.5V455.3M278.5,513.5V459.8M279.5,513.5V460.0M281.5,513.5V459.9M282.5,513.5V458.0M283.5,513.5V454.6M284.5,513.5V456.0M286.5,513.5V462.7M287.5,513.5V461.2M288.5,513.5V458.8M289.5,513.5V462.6M291.5,513.5V461.1M292.5,513.5V460.6M293.5,513.5V462.4M294.5,513.5V464.5M296.5,513.5V463.7M297.5,513.5V464.6M298.5,513.5V467.2M299.5,513.5V467.7M301.5,513.5V471.7M302.5,513.5V473.9M303.5,513.5V474.1M305.5,513.5V471.2M306.5,513.5V472.1M307.5,513.5V472.4M308.5,513.5V471.4M310.5,513.5V476.9M311.5,513.5V478.6M312.5,513.5V479.3M313.5,513.5V483.8M315.5,513.5V479.0M316.5,513.5V484.7M317.5,513.5V490.0M318.5,513.5V489.6M320.5,513.5V486.5M321.5,513.5V486.6M322.5,513.5V491.3M323.5,513.5V487.8M325.5,513.5V485.6M326.5,513.5V489.0M327.5,513.5V489.9M328.5,513.5V494.1M330.5,513.5V491.4M331.5,513.5V488.7M332.5,513.5V492.2M333.5,513.5V491.6M335.5,513.5V496.5M336.5,513.5V494.9M337.5,513.5V487.8M338.5,513.5V490.6M339.5,513.5V492.8M340.5,513.5V491.1M341.5,513.5V487.5M342.5,513.5V497.3M344.5,513.5V489.1M345.5,513.5V488.3M346.5,513.5V489.3M347.5,513.5V487.0M349.5,513.5V492.7M350.5,513.5V490.7M351.5,513.5V492.3M352.5,513.5V490.0M354.5,513.5V476.4M355.5,513.5V491.0M356.5,513.5V476.4M357.5,513.5V490.2M359.5,513.5V489.7M360.5,513.5V481.1M361.5,513.5V491.3M362.5,513.5V479.5M364.5,513.5V490.2M365.5,513.5V486.7M366.5,513.5V482.1M367.5,513.5V493.9M369.5,513.5V489.2M370.5,513.5V496.5M371.5,513.5V497.2M372.5,513.5V491.3M374.5,513.5V496.6M375.5,513.5V494.4M376.5,513.5V494.1M378.5,513.5V495.8M379.5,513.5V495.0M380.5,513.5V497.1M381.5,513.5V499.4M383.5,513.5V501.9M384.5,513.5V503.1M385.5,513.5V504.2M386.5,513.5V504.3M388.5,513.5V503.6M389.5,513.5V503.4M390.5,513.5V502.9M391.5,513.5V500.8M393.5,513.5V503.2M394.5,513.5V503.9M395.5,513.5V504.9M396.5,513.5V505.7M398.5,513.5V504.9M399.5,513.5V504.0M400.5,513.5V504.0M401.5,513.5V504.8M403.5,513.5V504.1M404.5,513.5V504.2M405.5,513.5V504.3M406.5,513.5V503.0M408.5,513.5V503.8M409.5,513.5V504.0M410.5,513.5V504.5M412.5,513.5V503.8M413.5,513.5V502.9M414.5,513.5V502.4M415.5,513.5V503.2M417.5,513.5V505.9M418.5,513.5V506.6M419.5,513.5V508.0M420.5,513.5V510.0M422.5,513.5V510.9M423.5,513.5V510.2M424.5,513.5V510.4M425.5,513.5V510.8M427.5,513.5V511.9M428.5,513.5V511.3M429.5,513.5V510.8M430.5,513.5V510.3M432.5,513.5V511.5M433.5,513.5V511.9M434.5,513.5V512.2M435.5,513.5V512.4M437.5,513.5V512.0M438.5,513.5V511.1M439.5,513.5V510.7M440.5,513.5V511.5M442.5,513.5V511.2M443.5,513.5V510.2M444.5,513.5V509.1M445.5,513.5V508.3" stroke="#222222" stroke-width="1" fill="none" shape-rendering="crispEdges"/>
<rect x="125.5" y="317.5" width="320" height="196" fill="none" stroke="#262626" stroke-width="1" shape-rendering="crispEdges"/>
<text x="124.8" y="531" text-anchor="middle" class="tk">0</text>
<text x="187.5" y="531" text-anchor="middle" class="tk">50</text>
<text x="250.3" y="531" text-anchor="middle" class="tk">100</text>
<text x="313.0" y="531" text-anchor="middle" class="tk">150</text>
<text x="375.8" y="531" text-anchor="middle" class="tk">200</text>
<text x="438.5" y="531" text-anchor="middle" class="tk">250</text>
<text x="119.5" y="518.1" text-anchor="end" class="tk">0</text>
<text x="119.5" y="453.1" text-anchor="end" class="tk">500</text>
<text x="119.5" y="387.1" text-anchor="end" class="tk">1000</text>
<text x="119.5" y="322.1" text-anchor="end" class="tk">1500</text>
<path d="M125.5,513.5v-3.2M125.5,317.5v3.2M187.5,513.5v-3.2M187.5,317.5v3.2M250.5,513.5v-3.2M250.5,317.5v3.2M313.5,513.5v-3.2M313.5,317.5v3.2M375.5,513.5v-3.2M375.5,317.5v3.2M438.5,513.5v-3.2M438.5,317.5v3.2M125.5,513.5h3.2M445.5,513.5h-3.2M125.5,448.5h3.2M445.5,448.5h-3.2M125.5,382.5h3.2M445.5,382.5h-3.2M125.5,317.5h3.2M445.5,317.5h-3.2" stroke="#262626" stroke-width="1" fill="none" shape-rendering="crispEdges"/>
<path d="M559.5,513.5V512.9M560.5,513.5V511.4M562.5,513.5V506.6M563.5,513.5V505.5M564.5,513.5V506.2M565.5,513.5V507.4M567.5,513.5V507.0M568.5,513.5V505.7M569.5,513.5V504.1M570.5,513.5V502.1M572.5,513.5V496.2M573.5,513.5V494.3M574.5,513.5V492.8M575.5,513.5V490.8M577.5,513.5V486.1M578.5,513.5V483.0M579.5,513.5V480.6M580.5,513.5V479.0M582.5,513.5V475.7M583.5,513.5V473.7M584.5,513.5V473.0M586.5,513.5V471.1M587.5,513.5V468.8M588.5,513.5V466.6M589.5,513.5V464.7M591.5,513.5V459.9M592.5,513.5V454.0M593.5,513.5V452.5M594.5,513.5V449.1M596.5,513.5V444.6M597.5,513.5V439.4M598.5,513.5V431.8M599.5,513.5V421.1M601.5,513.5V389.4M602.5,513.5V379.7M603.5,513.5V356.7M604.5,513.5V342.6M606.5,513.5V339.5M607.5,513.5V351.2M608.5,513.5V355.8M609.5,513.5V353.6M611.5,513.5V357.4M612.5,513.5V369.9M613.5,513.5V395.6M614.5,513.5V409.6M616.5,513.5V410.6M617.5,513.5V412.3M618.5,513.5V417.9M619.5,513.5V421.3M620.5,513.5V420.9M621.5,513.5V420.8M622.5,513.5V418.9M623.5,513.5V416.8M625.5,513.5V418.7M626.5,513.5V419.4M627.5,513.5V422.5M628.5,513.5V423.8M630.5,513.5V420.9M631.5,513.5V432.2M632.5,513.5V428.9M633.5,513.5V426.9M635.5,513.5V433.3M636.5,513.5V438.3M637.5,513.5V439.9M638.5,513.5V438.3M640.5,513.5V439.4M641.5,513.5V439.5M642.5,513.5V435.8M643.5,513.5V436.7M645.5,513.5V440.3M646.5,513.5V438.9M647.5,513.5V436.2M648.5,513.5V437.4M650.5,513.5V442.0M651.5,513.5V438.4M652.5,513.5V436.9M653.5,513.5V434.8M654.5,513.5V434.1M655.5,513.5V437.3M656.5,513.5V436.2M657.5,513.5V438.3M659.5,513.5V436.0M660.5,513.5V435.8M661.5,513.5V438.9M662.5,513.5V439.7M664.5,513.5V438.6M665.5,513.5V441.1M666.5,513.5V444.7M667.5,513.5V447.6M669.5,513.5V449.2M670.5,513.5V447.8M671.5,513.5V443.0M672.5,513.5V443.0M674.5,513.5V442.7M675.5,513.5V442.5M676.5,513.5V442.7M677.5,513.5V444.9M679.5,513.5V443.4M680.5,513.5V442.1M681.5,513.5V439.7M682.5,513.5V439.8M684.5,513.5V445.2M685.5,513.5V450.7M686.5,513.5V452.9M687.5,513.5V452.5M689.5,513.5V447.1M690.5,513.5V445.9M691.5,513.5V447.8M692.5,513.5V447.9M694.5,513.5V447.8M695.5,513.5V452.8M696.5,513.5V453.4M698.5,513.5V452.3M699.5,513.5V455.3M700.5,513.5V459.8M701.5,513.5V460.0M703.5,513.5V459.9M704.5,513.5V458.0M705.5,513.5V454.6M706.5,513.5V456.0M708.5,513.5V462.7M709.5,513.5V461.2M710.5,513.5V458.8M711.5,513.5V462.6M713.5,513.5V461.1M714.5,513.5V460.6M715.5,513.5V462.4M716.5,513.5V464.5M718.5,513.5V463.7M719.5,513.5V464.6M720.5,513.5V467.2M721.5,513.5V467.7M723.5,513.5V471.7M724.5,513.5V473.9M725.5,513.5V474.1M727.5,513.5V471.2M728.5,513.5V472.1M729.5,513.5V472.4M730.5,513.5V471.4M732.5,513.5V476.9M733.5,513.5V478.6M734.5,513.5V479.3M735.5,513.5V483.8M737.5,513.5V479.0M738.5,513.5V484.7M739.5,513.5V490.0M740.5,513.5V489.6M742.5,513.5V486.5M743.5,513.5V486.6M744.5,513.5V491.3M745.5,513.5V487.8M747.5,513.5V485.6M748.5,513.5V489.0M749.5,513.5V489.9M750.5,513.5V494.1M752.5,513.5V491.4M753.5,513.5V488.7M754.5,513.5V492.2M755.5,513.5V491.6M757.5,513.5V496.5M758.5,513.5V494.9M759.5,513.5V487.8M760.5,513.5V490.6M761.5,513.5V492.8M762.5,513.5V491.1M763.5,513.5V487.5M764.5,513.5V497.3M766.5,513.5V489.1M767.5,513.5V488.3M768.5,513.5V489.3M769.5,513.5V487.0M771.5,513.5V492.7M772.5,513.5V490.7M773.5,513.5V492.3M774.5,513.5V490.0M776.5,513.5V476.4M777.5,513.5V491.0M778.5,513.5V476.4M779.5,513.5V490.2M781.5,513.5V489.7M782.5,513.5V481.1M783.5,513.5V491.3M784.5,513.5V479.5M786.5,513.5V490.2M787.5,513.5V486.7M788.5,513.5V482.1M789.5,513.5V493.9M791.5,513.5V489.2M792.5,513.5V496.5M793.5,513.5V497.2M794.5,513.5V491.3M796.5,513.5V496.6M797.5,513.5V494.4M798.5,513.5V494.1M800.5,513.5V495.8M801.5,513.5V495.0M802.5,513.5V497.1M803.5,513.5V499.4M805.5,513.5V501.9M806.5,513.5V503.1M807.5,513.5V504.2M808.5,513.5V504.3M810.5,513.5V503.6M811.5,513.5V503.4M812.5,513.5V502.9M813.5,513.5V500.8M815.5,513.5V503.2M816.5,513.5V503.9M817.5,513.5V504.9M818.5,513.5V505.7M820.5,513.5V504.9M821.5,513.5V504.0M822.5,513.5V504.0M823.5,513.5V504.8M825.5,513.5V504.1M826.5,513.5V504.2M827.5,513.5V504.3M828.5,513.5V503.0M830.5,513.5V503.8M831.5,513.5V504.0M832.5,513.5V504.5M834.5,513.5V503.8M835.5,513.5V502.9M836.5,513.5V502.4M837.5,513.5V503.2M839.5,513.5V505.9M840.5,513.5V506.6M841.5,513.5V508.0M842.5,513.5V510.0M844.5,513.5V510.9M845.5,513.5V510.2M846.5,513.5V510.4M847.5,513.5V510.8M849.5,513.5V511.9M850.5,513.5V511.3M851.5,513.5V510.8M852.5,513.5V510.3M854.5,513.5V511.5M855.5,513.5V511.9M856.5,513.5V512.2M857.5,513.5V512.4M859.5,513.5V512.0M860.5,513.5V511.1M861.5,513.5V510.7M862.5,513.5V511.5M864.5,513.5V511.2M865.5,513.5V510.2M866.5,513.5V509.1M867.5,513.5V508.3" stroke="#222222" stroke-width="1" fill="none" shape-rendering="crispEdges"/>
<rect x="547.5" y="317.5" width="320" height="196" fill="none" stroke="#262626" stroke-width="1" shape-rendering="crispEdges"/>
<text x="546.8" y="531" text-anchor="middle" class="tk">0</text>
<text x="609.5" y="531" text-anchor="middle" class="tk">50</text>
<text x="672.3" y="531" text-anchor="middle" class="tk">100</text>
<text x="735.0" y="531" text-anchor="middle" class="tk">150</text>
<text x="797.8" y="531" text-anchor="middle" class="tk">200</text>
<text x="860.5" y="531" text-anchor="middle" class="tk">250</text>
<text x="541.5" y="518.1" text-anchor="end" class="tk">0</text>
<text x="541.5" y="453.1" text-anchor="end" class="tk">500</text>
<text x="541.5" y="387.1" text-anchor="end" class="tk">1000</text>
<text x="541.5" y="322.1" text-anchor="end" class="tk">1500</text>
<path d="M547.5,513.5v-3.2M547.5,317.5v3.2M609.5,513.5v-3.2M609.5,317.5v3.2M672.5,513.5v-3.2M672.5,317.5v3.2M735.5,513.5v-3.2M735.5,317.5v3.2M797.5,513.5v-3.2M797.5,317.5v3.2M860.5,513.5v-3.2M860.5,317.5v3.2M547.5,513.5h3.2M867.5,513.5h-3.2M547.5,448.5h3.2M867.5,448.5h-3.2M547.5,382.5h3.2M867.5,382.5h-3.2M547.5,317.5h3.2M867.5,317.5h-3.2" stroke="#262626" stroke-width="1" fill="none" shape-rendering="crispEdges"/>
</svg>
</body></html>
